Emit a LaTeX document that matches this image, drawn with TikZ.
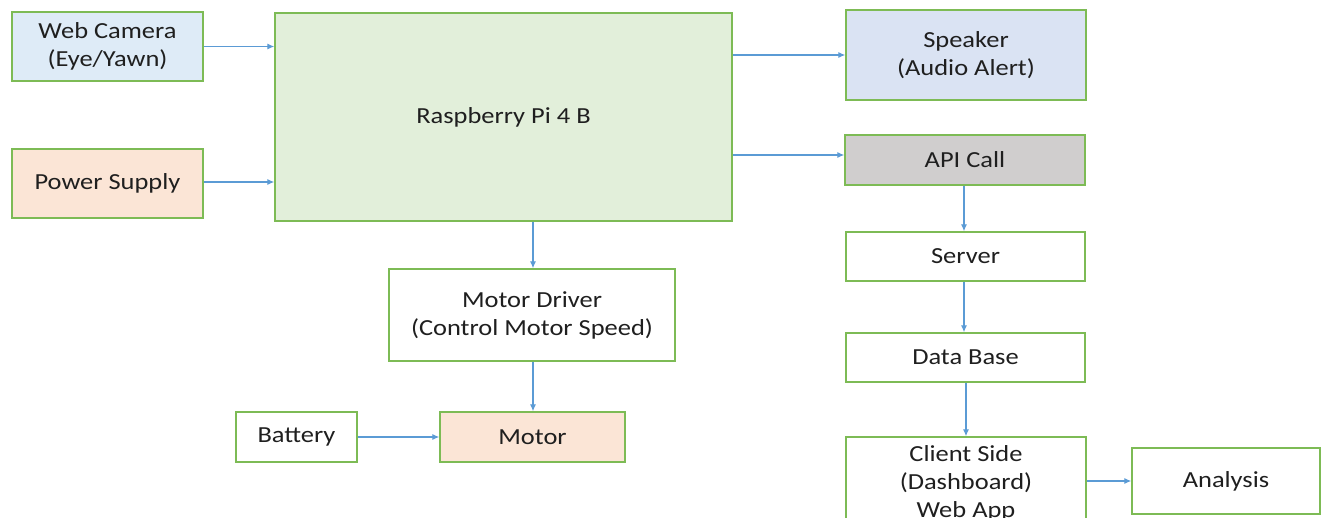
\documentclass[tikz,border=0pt]{standalone}
\usepackage{fontspec}
\setmainfont{Carlito}[FakeStretch=1.15]
\usetikzlibrary{arrows.meta}
\definecolor{bord}{HTML}{7DBB55}
\definecolor{arr}{HTML}{5B9BD5}
\definecolor{fblue}{HTML}{DEEBF7}
\definecolor{fblue2}{HTML}{DAE3F3}
\definecolor{fgreen}{HTML}{E2EFDA}
\definecolor{fpeach}{HTML}{FBE5D6}
\definecolor{fgray}{HTML}{D0CECE}
\tikzset{
  box/.style={draw=bord, line width=1.3pt, rectangle, align=center, inner sep=0pt,
    font=\fontsize{23}{28}\selectfont, text=black!88},
  conn/.style={draw=arr, line width=1.2pt, -{Latex[length=7pt,width=6pt]}}
}
\begin{document}
\begin{tikzpicture}[x=1pt,y=-1pt]
\clip (0,0) rectangle (1323,518);
\fill[white] (0,0) rectangle (1323,518);
\node[box, fill=fblue, minimum width=191pt, minimum height=69pt] (cam) at (107.5,46.5) {Web Camera\\(Eye/Yawn)};
\node[box, fill=fpeach, minimum width=191pt, minimum height=69pt] (pow) at (107.5,183.5) {Power Supply};
\node[box, fill=fgreen, minimum width=457pt, minimum height=208pt] (rpi) at (503.5,117) {Raspberry Pi 4 B};
\node[box, fill=fblue2, minimum width=240pt, minimum height=90pt] (spk) at (966,55) {Speaker\\(Audio Alert)};
\node[box, fill=fgray, minimum width=240pt, minimum height=50pt] (api) at (965,160) {API Call};
\node[box, minimum width=239pt, minimum height=49pt] (srv) at (965.5,256.5) {Server};
\node[box, minimum width=239pt, minimum height=49pt] (db) at (965.5,357.5) {Data Base};
\node[box, minimum width=240pt, minimum height=92pt] (cli) at (966,483) {Client Side\\(Dashboard)\\Web App};
\node[box, minimum width=188pt, minimum height=66pt] (ana) at (1226,481) {Analysis};
\node[box, minimum width=286pt, minimum height=92pt] (mdrv) at (532,315) {Motor Driver\\(Control Motor Speed)};
\node[box, minimum width=121pt, minimum height=50pt] (bat) at (296.5,437) {Battery};
\node[box, fill=fpeach, minimum width=185pt, minimum height=50pt] (mot) at (532.5,437) {Motor};
\draw[conn] (cam.east) -- (cam.east -| rpi.west);
\draw[conn] ([yshift=1.5pt]pow.east) -- ([yshift=1.5pt]pow.east -| rpi.west);
\draw[conn] (rpi.east |- spk.west) -- (spk.west);
\draw[conn] (rpi.east |- 0,155) -- (api.west |- 0,155);
\draw[conn] (rpi.south -| 533,0) -- (mdrv.north -| 533,0);
\draw[conn] (mdrv.south -| 533,0) -- (mot.north -| 533,0);
\draw[conn] (bat.east) -- (mot.west);
\draw[conn] (api.south -| 964,0) -- (srv.north -| 964,0);
\draw[conn] (srv.south -| 964,0) -- (db.north -| 964,0);
\draw[conn] (db.south -| 966,0) -- (cli.north -| 966,0);
\draw[conn] (cli.east |- ana.west) -- (ana.west);
\end{tikzpicture}
\end{document}
